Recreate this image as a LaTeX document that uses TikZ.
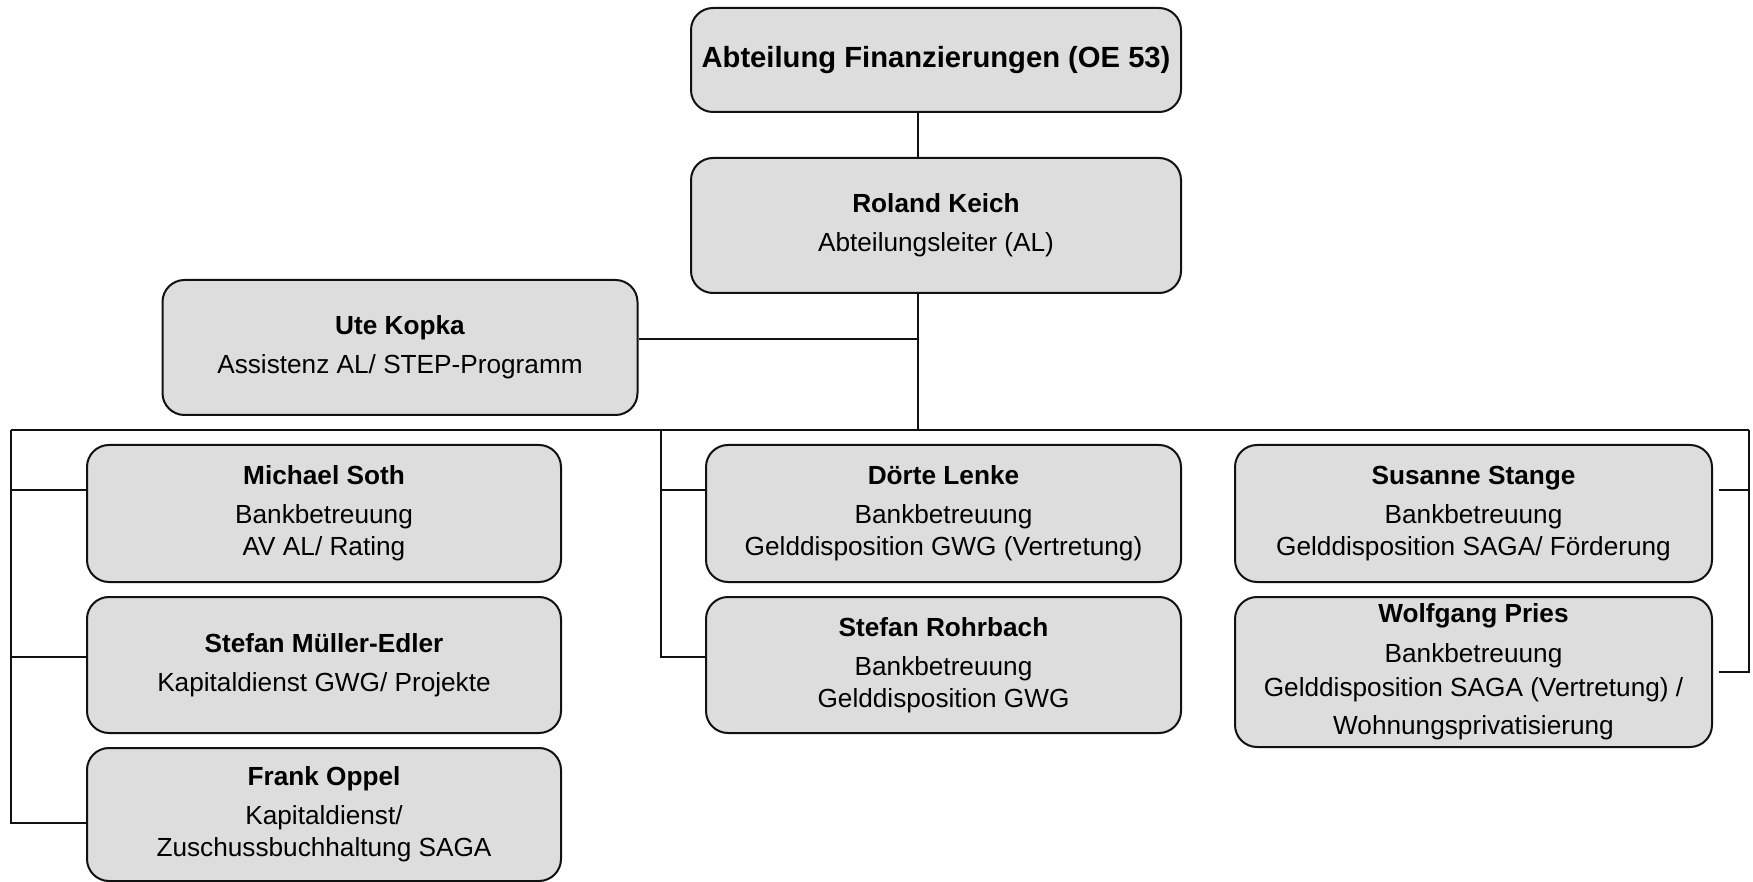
\documentclass[tikz,border=0pt]{standalone}
\usepackage{fontspec}
\setsansfont{Liberation Sans}
\usepackage{tikz}
\usetikzlibrary{positioning,calc}
\definecolor{boxfill}{HTML}{DDDDDD}
\definecolor{inkline}{HTML}{111111}
\newcommand{\pname}[1]{\textbf{#1}\\[3.5pt]}
\begin{document}
\begin{tikzpicture}[x=0.5pt,y=-0.5pt,
  every node/.style={font=\sffamily},
  unit/.style={draw=inkline,line width=1pt,rounded corners=11pt,fill=boxfill,
    align=center,inner sep=0pt,font=\sffamily\fontsize{13.1}{16}\selectfont},
  head/.style={unit,font=\sffamily\bfseries\fontsize{14.6}{17}\selectfont},
  link/.style={draw=inkline,line width=1pt}]
\useasboundingbox (0,0) rectangle (1753,882);
\def\up{11.75pt}
\node[head,minimum width=245pt,minimum height=52pt] (top) at (936,60) {Abteilung Finanzierungen (OE 53)};
\foreach \n/\x/\y/\w/\h/\t in {
  roland/936/225.5/245/67.5/{\pname{Roland Keich}Abteilungsleiter (AL)},
  ute/400/347.5/237.5/67.5/{\pname{Ute Kopka}Assistenz AL/ STEP-Programm},
  michael/324/513.5/237/68.5/{\pname{Michael Soth}Bankbetreuung\\AV AL/ Rating},
  stefanm/324/665/237/68/{\pname{Stefan Müller-Edler}Kapitaldienst GWG/ Projekte},
  frank/324/814.5/237/66.5/{\pname{Frank Oppel}Kapitaldienst/\\Zuschussbuchhaltung SAGA},
  doerte/943.5/513.5/237.5/68.5/{\pname{Dörte Lenke}Bankbetreuung\\Gelddisposition GWG (Vertretung)},
  stefanr/943.5/665/237.5/68/{\pname{Stefan Rohrbach}Bankbetreuung\\Gelddisposition GWG},
  susanne/1473.5/513.5/238.5/68.5/{\pname{Susanne Stange}Bankbetreuung\\Gelddisposition SAGA/ Förderung},
  wolfgang/1473.5/672/238.5/75/{\textbf{Wolfgang Pries}\\[4pt]Bankbetreuung\\[1pt]Gelddisposition SAGA (Vertretung) /\\[3pt]Wohnungsprivatisierung}}{
    \node[unit,minimum width=\w pt,minimum height=\h pt] (\n) at (\x,\y) {\t};
}
\coordinate (spine) at (918,430);
\coordinate (busL) at (11,430);
\coordinate (busM) at (661,430);
\coordinate (busR) at (1749,430);
\draw[link] (top.south -| spine) -- (roland.north -| spine);
\draw[link] (roland.south -| spine) -- (spine);
\draw[link] ([yshift=4.25pt]ute.east) -- ([yshift=4.25pt]ute.east -| spine);
\draw[link] (busL) -- (busR);
\draw[link] (busL) |- ([yshift=-4.25pt]frank.west);
\draw[link] ([yshift=\up]michael.west) -- ([yshift=\up]michael.west -| busL);
\draw[link] ([yshift=4pt]stefanm.west) -- ([yshift=4pt]stefanm.west -| busL);
\draw[link] (busM) |- ([yshift=4pt]stefanr.west);
\draw[link] ([yshift=\up]doerte.west) -- ([yshift=\up]doerte.west -| busM);
\draw[link] (busR) |- ([xshift=3pt]wolfgang.east);
\draw[link] ([xshift=3pt,yshift=\up]susanne.east) -- ([yshift=\up]susanne.east -| busR);
\end{tikzpicture}
\end{document}
